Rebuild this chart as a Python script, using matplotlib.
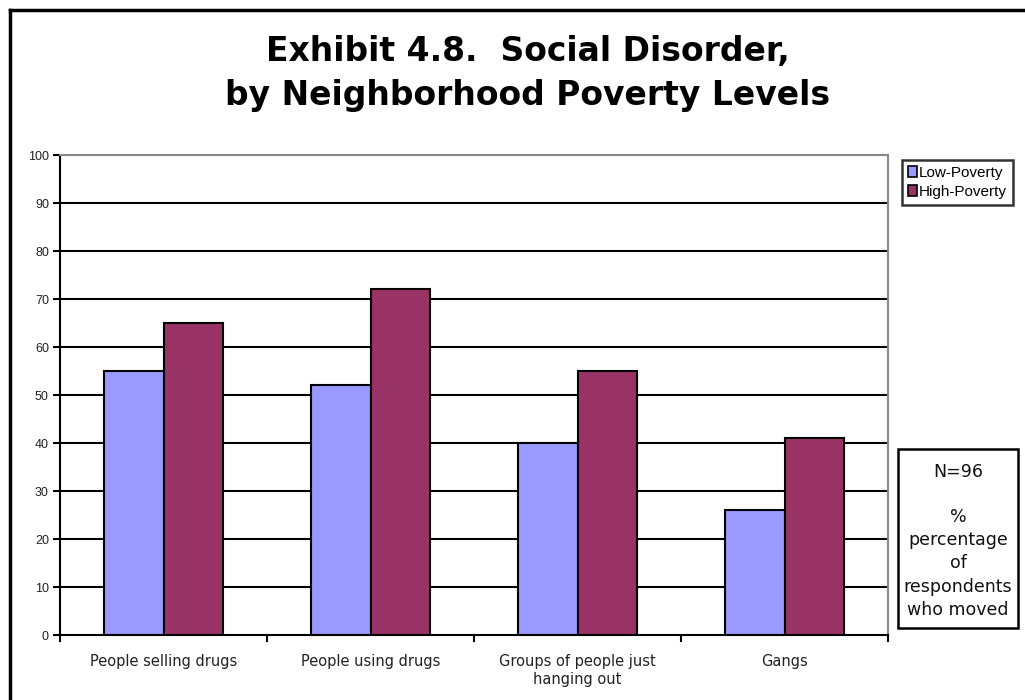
import matplotlib
matplotlib.use("Agg")
import matplotlib.pyplot as plt
from matplotlib.lines import Line2D
from matplotlib.patches import Rectangle, Patch
import numpy as np

categories = ["People selling drugs", "People using drugs",
              "Groups of people just\nhanging out", "Gangs"]
low_poverty = [55, 52, 40, 26]
high_poverty = [65, 72, 55, 41]
series_names = ["Low-Poverty", "High-Poverty"]
y_ticks = [0, 10, 20, 30, 40, 50, 60, 70, 80, 90, 100]
note_lines = ["N=96", "%", "percentage", "of", "respondents", "who moved"]

W, H = 1025, 700
fig = plt.figure(figsize=(W / 100, H / 100), dpi=100)
fig.patch.set_facecolor("white")

def fx(px):
    return px / W

def fy(py):
    return 1 - py / H

ax = fig.add_axes([fx(60), fy(635), fx(888) - fx(60), fy(155) - fy(635)])

x = np.arange(len(categories))
bw = 1 / 3.5  # gap width 150% of a bar
low_color = "#9999FF"
high_color = "#993366"
ax.bar(x - bw / 2, low_poverty, width=bw, color=low_color,
       edgecolor="black", linewidth=1.5, zorder=3)
ax.bar(x + bw / 2, high_poverty, width=bw, color=high_color,
       edgecolor="black", linewidth=1.5, zorder=3)

ax.set_xlim(-0.5, len(categories) - 0.5)
ax.set_ylim(0, 100)
ax.set_yticks(y_ticks)
ax.set_yticklabels([str(t) for t in y_ticks], fontfamily="Liberation Sans",
                   fontsize=9, color="#222222")
for t in y_ticks[1:]:
    ax.axhline(t, color="black" if t < 100 else "#888888", linewidth=1.5, zorder=1)

ax.set_xticks(x)
ax.set_xticklabels(categories, fontfamily="DejaVu Sans", fontsize=10.5,
                   color="#222222")
ax.tick_params(axis="x", length=0, pad=14)
ax.tick_params(axis="y", length=5, width=1.5, direction="out", pad=3)
# category boundary ticks
for b in np.arange(-0.5, len(categories) + 0.5, 1.0):
    ax.plot([b, b], [0, -1.2], color="black", linewidth=1.5,
            clip_on=False, zorder=4)

ax.spines["left"].set_linewidth(1.5)
ax.spines["bottom"].set_linewidth(1.5)
ax.spines["top"].set_color("#888888")
ax.spines["right"].set_color("#888888")
ax.spines["top"].set_linewidth(1.5)
ax.spines["right"].set_linewidth(1.5)

# title
fig.text(fx(528), fy(52), "Exhibit 4.8.  Social Disorder,", ha="center", va="center",
         fontsize=23.8, fontweight="bold", fontfamily="DejaVu Sans")
fig.text(fx(528), fy(95), "by Neighborhood Poverty Levels", ha="center", va="center",
         fontsize=23.8, fontweight="bold", fontfamily="DejaVu Sans")

# outer frame
fig.add_artist(Line2D([fx(10), fx(10)], [fy(10), 0], color="black",
                      linewidth=2.5, transform=fig.transFigure))
fig.add_artist(Line2D([fx(10), 1], [fy(10), fy(10)], color="black",
                      linewidth=2.5, transform=fig.transFigure))

# legend
handles = [Patch(facecolor=low_color, edgecolor="black", linewidth=1.2),
           Patch(facecolor=high_color, edgecolor="black", linewidth=1.2)]
leg = fig.legend(handles, series_names, loc="upper left",
                 bbox_to_anchor=(fx(902), fy(160)), frameon=True,
                 fancybox=False, handlelength=0.6, handleheight=0.7,
                 handletextpad=0.1, borderpad=0.4, labelspacing=0.3,
                 borderaxespad=0, prop={"family": "Liberation Sans", "size": 11})
leg.get_frame().set_edgecolor("black")
leg.get_frame().set_linewidth(1.8)

# note box
fig.add_artist(Rectangle((fx(898), fy(628)), fx(1018) - fx(898), fy(449) - fy(628),
                         transform=fig.transFigure, facecolor="white",
                         edgecolor="black", linewidth=1.8))
for line, ypx in zip(note_lines, [472, 517, 540, 563, 587, 610]):
    fig.text(fx(958), fy(ypx), line, ha="center", va="center",
             fontsize=12.5, fontfamily="DejaVu Sans", color="#111111")

fig.savefig("out.png", dpi=100, facecolor="white")
